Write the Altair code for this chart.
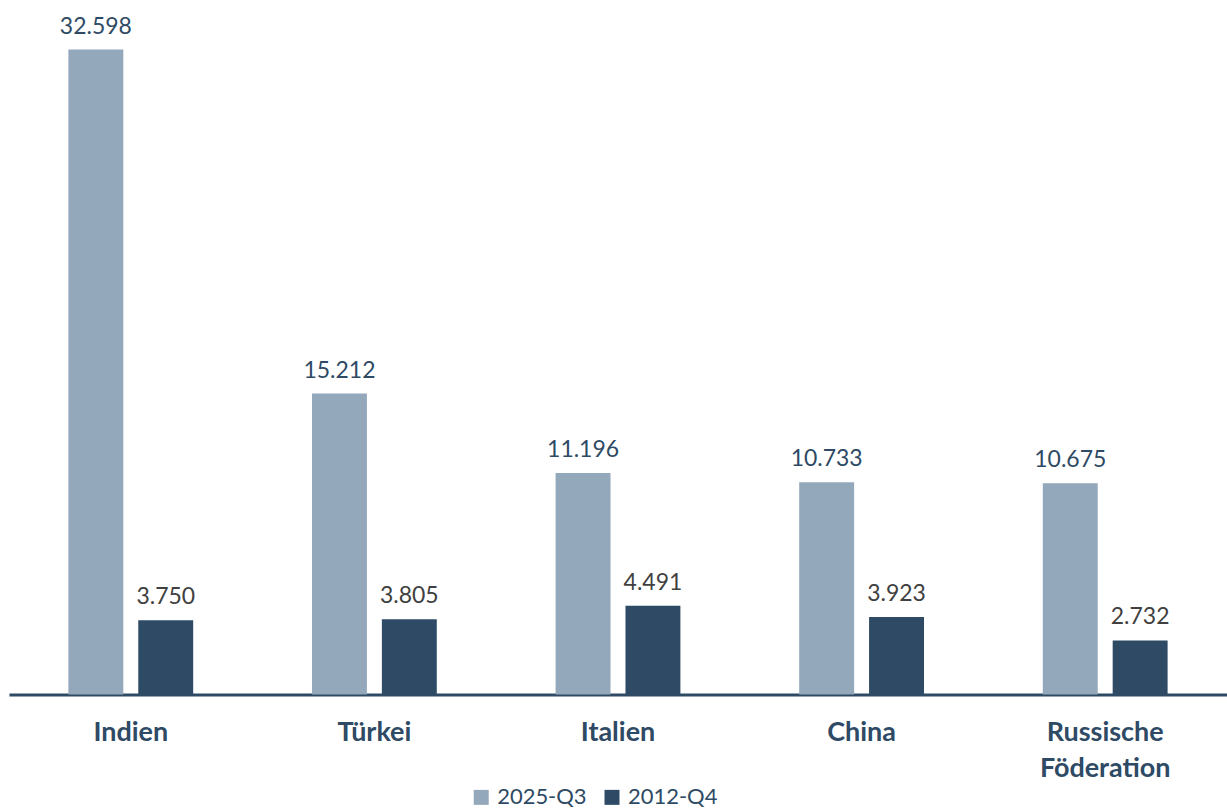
import altair as alt
import pandas as pd

countries = ["Indien", "Türkei", "Italien", "China", "Russische Föderation"]
series_names = ["2025-Q3", "2012-Q4"]
values_2025_q3 = [32598, 15212, 11196, 10733, 10675]
values_2012_q4 = [3750, 3805, 4491, 3923, 2732]

rows = []
for c, a, b in zip(countries, values_2025_q3, values_2012_q4):
    rows.append({"country": c, "series": series_names[0], "value": a})
    rows.append({"country": c, "series": series_names[1], "value": b})
df = pd.DataFrame(rows)
df["label"] = df["value"].map(lambda v: f"{v:,}".replace(",", "."))

FONT = "Lato"
NAVY = "#2E4A64"
LIGHT = "#94A8BC"

x_enc = alt.X(
    "country:N",
    sort=countries,
    scale=alt.Scale(paddingInner=0, paddingOuter=0),
    axis=alt.Axis(
        title=None,
        labelAngle=0,
        ticks=False,
        domain=True,
        domainColor=NAVY,
        domainWidth=3,
        labelFont=FONT,
        labelFontWeight="bold",
        labelFontSize=27,
        labelColor=NAVY,
        labelPadding=46,
        labelLineHeight=36,
        labelBaseline="alphabetic",
        labelExpr="datum.label == 'Russische Föderation' ? ['Russische', 'Föderation'] : datum.label",
    ),
)
xoff = alt.XOffset(
    "series:N",
    sort=series_names,
    scale=alt.Scale(paddingInner=0.214, paddingOuter=0.85),
)
y_enc = alt.Y(
    "value:Q",
    scale=alt.Scale(domain=[0, 35070], nice=False, zero=True),
    axis=None,
)

bars = alt.Chart(df).mark_bar().encode(
    x=x_enc,
    xOffset=xoff,
    y=y_enc,
    color=alt.Color(
        "series:N",
        scale=alt.Scale(domain=series_names, range=[LIGHT, NAVY]),
        legend=alt.Legend(
            title=None,
            orient="none",
            direction="horizontal",
            legendX=462,
            legendY=787,
            symbolType="square",
            symbolSize=225,
            symbolStrokeWidth=0,
            labelFont=FONT,
            labelFontSize=22,
            labelColor=NAVY,
            columnPadding=14,
            labelOffset=5,
        ),
    ),
)

labels = alt.Chart(df).mark_text(
    baseline="alphabetic", dy=-16, font=FONT, fontSize=23
).encode(
    x=alt.X("country:N", sort=countries),
    xOffset=xoff,
    y=y_enc,
    text="label:N",
    color=alt.condition(
        alt.datum.series == "2025-Q3", alt.value(NAVY), alt.value("#404040")
    ),
)

chart = (
    alt.layer(bars, labels)
    .properties(
        width=1220,
        height=695,
        padding={"left": 9, "right": 0, "top": 0, "bottom": 113},
        autosize=alt.AutoSizeParams(type="none"),
    )
    .configure_view(stroke=None)
)

chart.save("out.html", embed_options={"renderer": "svg", "actions": False})
